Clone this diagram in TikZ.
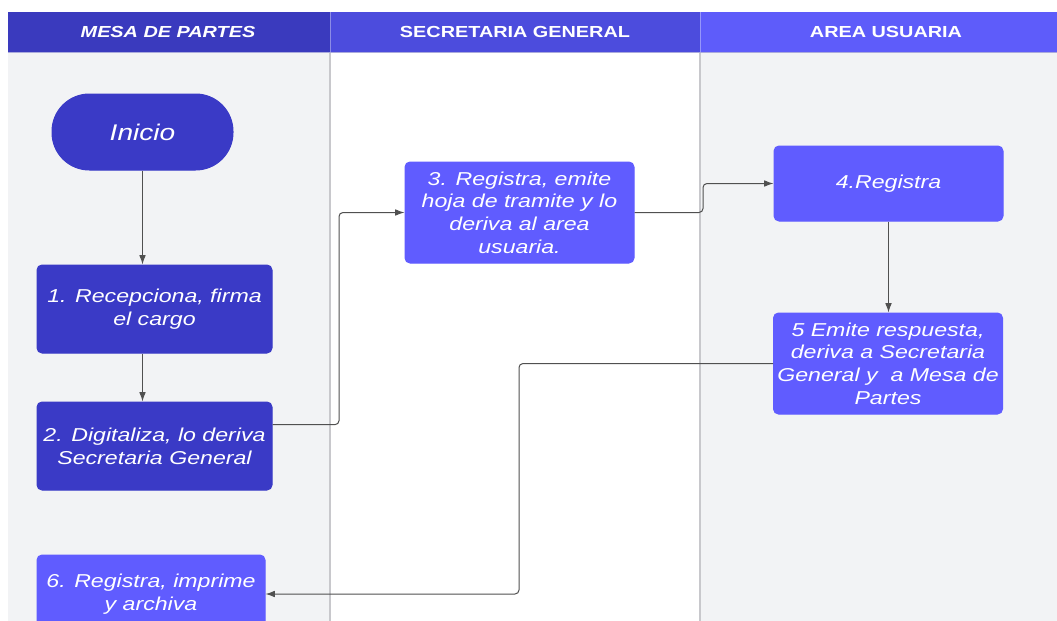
\documentclass[tikz,border=0pt]{standalone}
\usepackage{fontspec}
\newfontfamily\lanefont[FakeStretch=1.24]{Liberation Sans}
\usetikzlibrary{arrows.meta,calc}
\tikzset{every picture/.style={line width=0.75pt}}

\definecolor{hdone}{RGB}{58,58,190}
\definecolor{hdtwo}{RGB}{76,76,221}
\definecolor{hdthree}{RGB}{94,92,250}
\definecolor{dkblue}{RGB}{58,58,198}
\definecolor{ltblue}{RGB}{96,92,255}
\definecolor{lanegray}{RGB}{242,243,245}
\definecolor{divgray}{RGB}{200,200,204}
\definecolor{flowgray}{RGB}{80,80,80}

\tikzset{
  dkbox/.style={draw=dkblue, fill=dkblue, rounded corners=3.75pt, inner sep=0pt,
    minimum width=176.25pt, minimum height=66pt, align=center, text=white,
    font=\lanefont\itshape\fontsize{14}{17}\selectfont},
  ltbox/.style={dkbox, draw=ltblue, fill=ltblue, minimum width=171.75pt, minimum height=75.75pt},
  headtxt/.style={text=white, font=\lanefont\bfseries\fontsize{12}{14}\selectfont},
  flow/.style={draw=flowgray, line width=0.75pt, rounded corners=3pt, -{Latex[length=7pt,width=5pt]}}
}

\begin{document}
\begin{tikzpicture}[x=0.75pt,y=0.75pt,yscale=-1,xscale=1]
	\useasboundingbox (0,0) rectangle (1057,621);
	
	%Shape: Lanes
	\fill [lanegray] (8,52) rectangle (330,621);
	\fill [lanegray] (700,52) rectangle (1057,621);
	%Shape: Header cells
	\fill [hdone] (8,12) rectangle (330,52);
	\fill [hdtwo] (330,12) rectangle (700,52);
	\fill [hdthree] (700,12) rectangle (1057,52);
	%Straight Lines: dividers
	\draw [color=divgray, line width=1.2pt] (330,52) -- (330,621);
	\draw [color=divgray, line width=1.2pt] (700,52) -- (700,621);
	\draw [color={rgb, 255:red, 140; green, 140; blue, 230}] (330,12) -- (330,52);
	\draw [color={rgb, 255:red, 150; green, 150; blue, 250}] (700,12) -- (700,52);
	\draw [color={rgb, 255:red, 170; green, 170; blue, 220}] (8,52) -- (1057,52);
	
	% Text Node
	\node [headtxt, font=\lanefont\bfseries\itshape\fontsize{12}{14}\selectfont] (hmesa) at (168,32) {MESA DE PARTES};
	% Text Node
	\node [headtxt] (hsecre) at (515,32) {SECRETARIA GENERAL};
	% Text Node
	\node [headtxt] (harea) at (886,32) {AREA USUARIA};
	
	%Shape: Terminator
	\node [dkbox, minimum width=135.75pt, minimum height=57pt, rounded corners=28pt,
	  font=\lanefont\itshape\fontsize{17}{20}\selectfont] (ini) at (142.5,132) {Inicio};
	%Shape: Rectangle
	\node [dkbox] (recep) at (154.5,309) {1. Recepciona, firma\\el cargo};
	%Shape: Rectangle
	\node [dkbox] (digit) at (154.5,446) {2. Digitaliza, lo deriva\\Secretaria General};
	%Shape: Rectangle
	\node [ltbox, minimum width=171pt, minimum height=58.5pt] (archi) at (151,594) {6. Registra, imprime\\y archiva};
	%Shape: Rectangle
	\node [ltbox] (hoja) at (519.5,212.5) {3. Registra, emite\\hoja de tramite y lo\\deriva al area\\usuaria.};
	%Shape: Rectangle
	\node [ltbox, minimum height=56.25pt] (regis) at (888.5,183.5) {4.Registra};
	%Shape: Rectangle
	\node [ltbox] (resp) at (888,363.5) {5 Emite respuesta,\\deriva a Secretaria\\General y \ a Mesa de\\Partes};
	
	% Bend points
	\coordinate (kone) at (339,0);
	\coordinate (ktwo) at (703,0);
	\coordinate (kthree) at (519,0);
	
	%Connectors
	\draw [flow] (ini.south) -- (ini.south |- recep.north);
	\draw [flow] (recep.south -| ini.south) -- (digit.north -| ini.south);
	\draw [flow] ($(digit.north east)!0.26!(digit.south east)$) -| (kone |- hoja.west) -- (hoja.west);
	\draw [flow] (hoja.east) -| (ktwo |- regis.west) -- (regis.west);
	\draw [flow] (regis.south) -- (regis.south |- resp.north);
	\draw [flow] (resp.west) -| (kthree |- archi.east) -- (archi.east);
\end{tikzpicture}
\end{document}
